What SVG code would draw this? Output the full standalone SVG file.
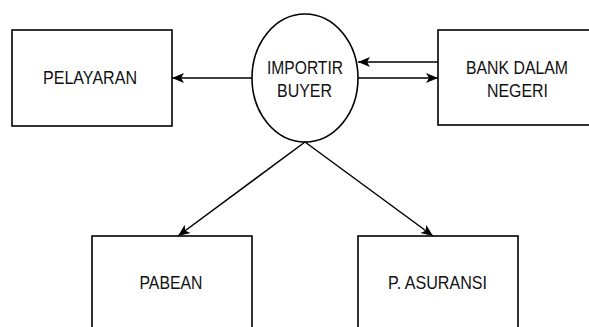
<svg xmlns="http://www.w3.org/2000/svg" width="589" height="327" viewBox="0 0 589 327">
<style>
.box{fill:#fff;stroke:#000;stroke-width:1.6}
.lbl{font-family:"Liberation Sans",Arial,sans-serif;font-size:19px;fill:#111;text-anchor:middle}
.edge{fill:none;stroke:#000;stroke-width:1.5}
</style>
<defs>
<marker id="ah" markerWidth="13" markerHeight="11" refX="12" refY="5.5" orient="auto" markerUnits="userSpaceOnUse">
<path d="M0,0.5 L12,5.5 L0,10.5 L3,5.5 z" fill="#000"/>
</marker>
</defs>
<rect width="589" height="327" fill="#fff"/>
<g id="pelayaran">
<rect class="box" x="12" y="30" width="160" height="96"/>
<text class="lbl" x="90" y="84" textLength="94" lengthAdjust="spacingAndGlyphs">PELAYARAN</text>
</g>
<g id="importir">
<ellipse class="box" cx="305" cy="78" rx="53" ry="64"/>
<text class="lbl" x="305" y="74" textLength="76" lengthAdjust="spacingAndGlyphs">IMPORTIR</text>
<text class="lbl" x="304.5" y="96.5" textLength="55" lengthAdjust="spacingAndGlyphs">BUYER</text>
</g>
<g id="bank">
<rect class="box" x="438" y="30" width="160" height="95"/>
<text class="lbl" x="517" y="74" textLength="102" lengthAdjust="spacingAndGlyphs">BANK DALAM</text>
<text class="lbl" x="517.5" y="96.5" textLength="61" lengthAdjust="spacingAndGlyphs">NEGERI</text>
</g>
<g id="pabean">
<rect class="box" x="92" y="236" width="160" height="100"/>
<text class="lbl" x="171" y="289" textLength="63" lengthAdjust="spacingAndGlyphs">PABEAN</text>
</g>
<g id="asuransi">
<rect class="box" x="358" y="236" width="160" height="100"/>
<text class="lbl" x="437.5" y="289" textLength="99" lengthAdjust="spacingAndGlyphs">P. ASURANSI</text>
</g>
<g id="connectors">
<line class="edge" x1="252" y1="78" x2="172" y2="78" marker-end="url(#ah)"/>
<line class="edge" x1="438" y1="62" x2="358" y2="62" marker-end="url(#ah)"/>
<line class="edge" x1="358" y1="78" x2="438" y2="78" marker-end="url(#ah)"/>
<line class="edge" x1="305" y1="142" x2="178" y2="236" marker-end="url(#ah)"/>
<line class="edge" x1="305" y1="142" x2="433" y2="236" marker-end="url(#ah)"/>
</g>
</svg>
